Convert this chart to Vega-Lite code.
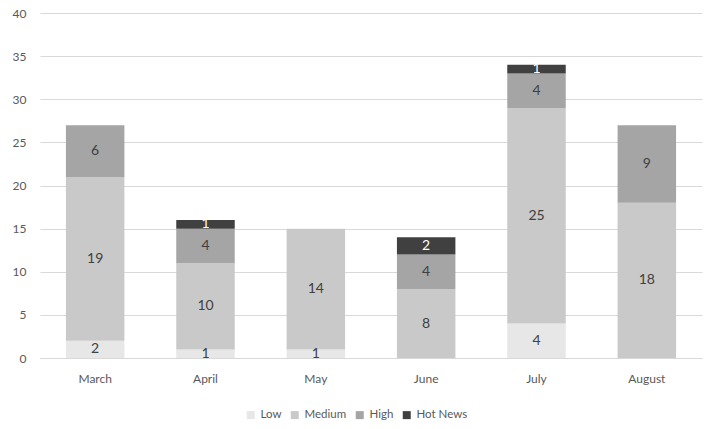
{
  "$schema": "https://vega.github.io/schema/vega-lite/v6.json",
  "width": 662,
  "height": 345,
  "autosize": {"type": "none"},
  "padding": {"left": 40, "top": 13, "right": 10, "bottom": 71},
  "background": "white",
  "config": {
    "view": {"stroke": null},
    "font": "Lato",
    "axis": {"labelFont": "Lato", "labelColor": "#595959", "labelFontSize": 12, "ticks": false, "title": null},
    "legend": {"labelFont": "Lato", "labelColor": "#595959", "labelFontSize": 11.5}
  },
  "data": {
    "values": [
      {"month": "March", "series": "Low", "value": 2},
      {"month": "March", "series": "Medium", "value": 19},
      {"month": "March", "series": "High", "value": 6},
      {"month": "April", "series": "Low", "value": 1},
      {"month": "April", "series": "Medium", "value": 10},
      {"month": "April", "series": "High", "value": 4},
      {"month": "April", "series": "Hot News", "value": 1},
      {"month": "May", "series": "Low", "value": 1},
      {"month": "May", "series": "Medium", "value": 14},
      {"month": "June", "series": "Medium", "value": 8},
      {"month": "June", "series": "High", "value": 4},
      {"month": "June", "series": "Hot News", "value": 2},
      {"month": "July", "series": "Low", "value": 4},
      {"month": "July", "series": "Medium", "value": 25},
      {"month": "July", "series": "High", "value": 4},
      {"month": "July", "series": "Hot News", "value": 1},
      {"month": "August", "series": "Medium", "value": 18},
      {"month": "August", "series": "High", "value": 9}
    ]
  },
  "transform": [
    {"calculate": "indexof(['Low','Medium','High','Hot News'], datum.series)", "as": "rank"},
    {"stack": "value", "groupby": ["month"], "sort": [{"field": "rank", "order": "ascending"}], "as": ["v0", "v1"]},
    {"calculate": "(datum.v0 + datum.v1) / 2", "as": "mid"}
  ],
  "encoding": {
    "x": {
      "field": "month", "type": "nominal",
      "sort": ["March", "April", "May", "June", "July", "August"],
      "scale": {"paddingInner": 0.47, "paddingOuter": 0.235},
      "axis": {"labelAngle": 0, "labelPadding": 15, "domain": true, "domainColor": "#d9d9d9", "grid": false}
    }
  },
  "layer": [
    {
      "mark": {"type": "bar"},
      "encoding": {
        "y": {
          "field": "v0", "type": "quantitative",
          "scale": {"domain": [0, 40], "nice": false},
          "axis": {"values": [0, 5, 10, 15, 20, 25, 30, 35, 40], "grid": true, "gridColor": "#d9d9d9", "domain": false, "labelPadding": 14}
        },
        "y2": {"field": "v1"},
        "color": {
          "field": "series", "type": "nominal",
          "scale": {"domain": ["Low", "Medium", "High", "Hot News"], "range": ["#e7e7e7", "#c9c9c9", "#a5a5a5", "#404040"]},
          "legend": {
            "orient": "none", "direction": "horizontal", "title": null,
            "legendX": 205, "legendY": 396,
            "symbolType": "square", "symbolSize": 64, "symbolStrokeWidth": 0,
            "columnPadding": 7, "labelOffset": 4
          }
        }
      }
    },
    {
      "mark": {"type": "text", "fontSize": 14, "baseline": "middle", "font": "Lato"},
      "encoding": {
        "y": {"field": "mid", "type": "quantitative"},
        "text": {"field": "value", "type": "quantitative"},
        "color": {
          "condition": {"test": "datum.series === 'Hot News'", "value": "#ffffff"},
          "value": "#404040"
        }
      }
    }
  ]
}
